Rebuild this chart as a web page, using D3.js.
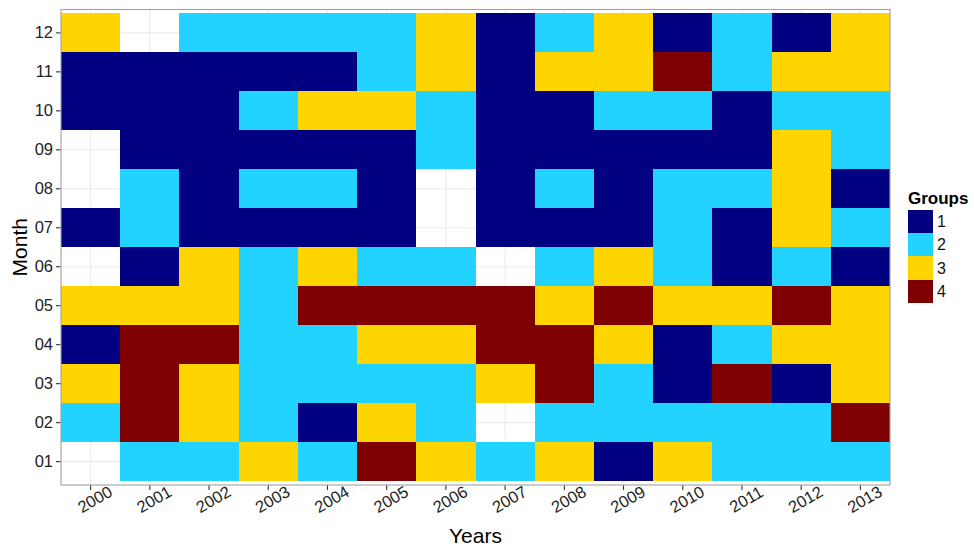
<!DOCTYPE html>
<html>
<head>
<meta charset="utf-8">
<script src="https://cdn.jsdelivr.net/npm/d3@7"></script>
<style>
  html, body { margin: 0; padding: 0; background: #fff; }
  svg { display: block; font-family: "Liberation Sans", Arial, sans-serif; }
</style>
</head>
<body>
<svg id="chart" width="974" height="549"></svg>
<script>
// ---- Data ----
const years = ["2000","2001","2002","2003","2004","2005","2006","2007","2008","2009","2010","2011","2012","2013"];
const months = ["01","02","03","04","05","06","07","08","09","10","11","12"];
const groupLabels = ["1","2","3","4"];
const groupColors = ["#000080", "#22D3FF", "#FFD500", "#7F0000"];
// rows: month 01..12, columns: years 2000..2013 (null = no data)
const groupValues = [
  [null,2,2,3,2,4,3,2,3,1,3,2,2,2],   // 01
  [2,4,3,2,1,3,2,null,2,2,2,2,2,4],   // 02
  [3,4,3,2,2,2,2,3,4,2,1,4,1,3],      // 03
  [1,4,4,2,2,3,3,4,4,3,1,2,3,3],      // 04
  [3,3,3,2,4,4,4,4,3,4,3,3,4,3],      // 05
  [null,1,3,2,3,2,2,null,2,3,2,1,2,1],// 06
  [1,2,1,1,1,1,null,1,1,1,2,1,3,2],   // 07
  [null,2,1,2,2,1,null,1,2,1,2,2,3,1],// 08
  [null,1,1,1,1,1,2,1,1,1,1,1,3,2],   // 09
  [1,1,1,2,3,3,2,1,1,2,2,1,2,2],      // 10
  [1,1,1,1,1,2,3,1,3,3,4,2,3,3],      // 11
  [3,null,2,2,2,2,3,1,2,3,1,2,1,3]    // 12
];

const cells = [];
months.forEach((m, i) => years.forEach((y, j) => {
  cells.push({ month: m, year: y, g: groupValues[i][j] });
}));

// ---- Layout ----
const svg = d3.select("#chart");
const panel = { left: 61, right: 890, top: 9.5, bottom: 485 };
const yPad = 3.9;

const x = d3.scaleBand().domain(years).range([panel.left, panel.right]).padding(0);
const y = d3.scaleBand().domain(months.slice().reverse())
  .range([panel.top + yPad, panel.bottom - yPad]).padding(0);
const color = d3.scaleOrdinal().domain([1,2,3,4]).range(groupColors);

// panel background
svg.append("rect")
  .attr("x", panel.left).attr("y", panel.top)
  .attr("width", panel.right - panel.left).attr("height", panel.bottom - panel.top)
  .attr("fill", "#fff");

// gridlines
const grid = svg.append("g").attr("stroke", "#EBEBEB").attr("stroke-width", 1.1);
years.forEach(yr => {
  const cx = x(yr) + x.bandwidth() / 2;
  grid.append("line").attr("x1", cx).attr("x2", cx).attr("y1", panel.top).attr("y2", panel.bottom);
});
months.forEach(m => {
  const cy = y(m) + y.bandwidth() / 2;
  grid.append("line").attr("x1", panel.left).attr("x2", panel.right).attr("y1", cy).attr("y2", cy);
});

// tiles
svg.append("g").selectAll("rect")
  .data(cells.filter(d => d.g !== null))
  .join("rect")
  .attr("x", d => x(d.year))
  .attr("y", d => y(d.month))
  .attr("width", x.bandwidth())
  .attr("height", y.bandwidth())
  .attr("fill", d => color(d.g))
  .attr("shape-rendering", "crispEdges");

// panel border
svg.append("rect")
  .attr("x", panel.left).attr("y", panel.top)
  .attr("width", panel.right - panel.left).attr("height", panel.bottom - panel.top)
  .attr("fill", "none").attr("stroke", "#A0A0A0").attr("stroke-width", 1.1);

// y axis
const yAxis = d3.axisLeft(y).tickSize(4.5).tickPadding(3);
const gy = svg.append("g").attr("transform", `translate(${panel.left - 0.5},0)`).call(yAxis);
gy.select(".domain").remove();
gy.selectAll(".tick line").attr("stroke", "#333").attr("stroke-width", 1.1);
gy.selectAll(".tick text").attr("fill", "#222").attr("font-size", 16.5)
  .attr("font-family", "Liberation Sans, Arial, sans-serif");

// x axis
const xAxis = d3.axisBottom(x).tickSize(4.5).tickPadding(3);
const gx = svg.append("g").attr("transform", `translate(0,${panel.bottom + 0.5})`).call(xAxis);
gx.select(".domain").remove();
gx.selectAll(".tick line").attr("stroke", "#333").attr("stroke-width", 1.1);
gx.selectAll(".tick text")
  .attr("fill", "#222").attr("font-size", 16.5)
  .attr("font-family", "Liberation Sans, Arial, sans-serif")
  .attr("text-anchor", "middle")
  .attr("dy", null)
  .attr("y", null)
  .attr("transform", "translate(5,15) rotate(-30)")
  .attr("dominant-baseline", "middle");

// axis titles
svg.append("text")
  .attr("x", (panel.left + panel.right) / 2).attr("y", 543)
  .attr("text-anchor", "middle").attr("font-size", 21).attr("fill", "#000")
  .text("Years");
svg.append("text")
  .attr("transform", `translate(27,${(panel.top + panel.bottom) / 2}) rotate(-90)`)
  .attr("text-anchor", "middle").attr("font-size", 21).attr("fill", "#000")
  .text("Month");

// legend
const legend = svg.append("g");
legend.append("text")
  .attr("x", 908).attr("y", 204)
  .attr("font-size", 17).attr("font-weight", "bold").attr("fill", "#000")
  .text("Groups");
groupLabels.forEach((lab, i) => {
  const ky = 210 + i * 23.2;
  legend.append("rect")
    .attr("x", 908).attr("y", ky).attr("width", 25).attr("height", 23.2)
    .attr("fill", color(i + 1)).attr("shape-rendering", "crispEdges");
  legend.append("text")
    .attr("x", 937).attr("y", ky + 11.6)
    .attr("dominant-baseline", "central")
    .attr("font-size", 16).attr("fill", "#111")
    .text(lab);
});
</script>
</body>
</html>
